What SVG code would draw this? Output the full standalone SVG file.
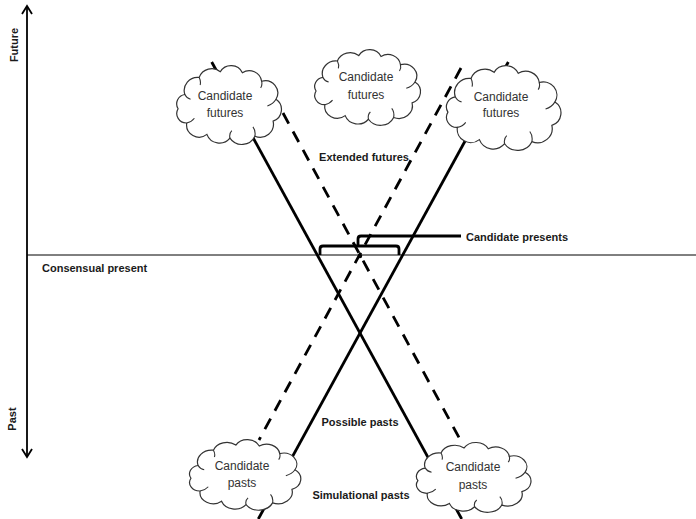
<svg xmlns="http://www.w3.org/2000/svg" width="696" height="519" viewBox="0 0 696 519">
<style>
.lbl{font-family:"Liberation Sans",Arial,sans-serif;font-size:11px;font-weight:bold;fill:#1a1a1a}
.ct{font-family:"Liberation Sans",Arial,sans-serif;font-size:12px;fill:#333;text-anchor:middle}
.cloud{fill:#fff;stroke:#333;stroke-width:1.2}
.curl{fill:none;stroke:#333;stroke-width:1.1}
.solid{stroke:#000;stroke-width:2.8;fill:none}
.dash{stroke:#000;stroke-width:2.8;fill:none;stroke-dasharray:12 9}
.axis{stroke:#000;stroke-width:1.8;fill:none}
</style>
<defs>
<g id="cloudShape">
<path class="cloud" vector-effect="non-scaling-stroke" d="M -45 -10 A 14 14 0 0 1 -30 -28 A 14 14 0 0 1 -8 -34 A 13 13 0 0 1 15 -33 A 13 13 0 0 1 35 -24 A 13 13 0 0 1 50 -5 A 13 13 0 0 1 47 18 A 14 14 0 0 1 28 34 A 15 15 0 0 1 2 36 A 14 14 0 0 1 -22 32 A 13 13 0 0 1 -43 20 A 10 10 0 0 1 -52 5 A 10 10 0 0 1 -45 -10 Z"/>
<path class="curl" vector-effect="non-scaling-stroke" d="M -43 20 Q -38 19 -35 15 M 50 -5 Q 47 0 41 2 M 2 36 Q 1 31 4 28 M 28 34 Q 29 28 26 24 M -30 -28 Q -28 -24 -29 -20 M 35 -24 Q 36 -20 34 -17 M -45 -10 Q -43 -6 -39 -5"/>
</g>
</defs>

<g id="axes">
<line class="axis" x1="27" y1="6" x2="27" y2="457"/>
<polyline class="axis" points="22,14 27,6 32,14"/>
<polyline class="axis" points="22,449 27,457 32,449"/>
<line x1="27" y1="255" x2="696" y2="255" stroke="#000" stroke-width="1"/>
<text class="lbl" transform="translate(18,45) rotate(-90)" text-anchor="middle">Future</text>
<text class="lbl" transform="translate(16,419) rotate(-90)" text-anchor="middle">Past</text>
</g>

<g id="connectors">
<line class="solid" x1="211.7" y1="62" x2="461.7" y2="519"/>
<line class="solid" x1="508.3" y1="62" x2="258.3" y2="519"/>
<line class="dash" x1="283" y1="113" x2="462" y2="443"/>
<line class="dash" x1="461" y1="68" x2="259" y2="440"/>
<path class="solid" d="M 320 255 V 249 Q 320 246 323 246 H 396 Q 399 246 399 249 V 255"/>
<path class="solid" d="M 358 246 V 239 Q 358 236 361 236 H 461"/>
<circle cx="360" cy="256" r="2.2" fill="#000"/>
</g>

<g id="cloud-tl">
<use href="#cloudShape" transform="translate(228,104) scale(0.96,0.95)"/>
<text class="ct" x="225" y="100">Candidate</text>
<text class="ct" x="225" y="117">futures</text>
</g>
<g id="cloud-tm">
<use href="#cloudShape" transform="translate(366.5,86.5) scale(0.97,0.91)"/>
<text class="ct" x="366" y="81">Candidate</text>
<text class="ct" x="366" y="99">futures</text>
</g>
<g id="cloud-tr">
<use href="#cloudShape" transform="translate(502.5,107) scale(1.05,1.02)"/>
<text class="ct" x="501" y="101">Candidate</text>
<text class="ct" x="501" y="117">futures</text>
</g>
<g id="cloud-bl">
<use href="#cloudShape" transform="translate(244,474) scale(1.02,0.85)"/>
<text class="ct" x="242" y="470">Candidate</text>
<text class="ct" x="242" y="487">pasts</text>
</g>
<g id="cloud-br">
<use href="#cloudShape" transform="translate(472.5,476.5) scale(1.05,0.84)"/>
<text class="ct" x="473" y="471">Candidate</text>
<text class="ct" x="473" y="489">pasts</text>
</g>

<g id="labels">
<text class="lbl" x="364" y="161" text-anchor="middle">Extended futures</text>
<text class="lbl" x="42" y="272">Consensual present</text>
<text class="lbl" x="466" y="241">Candidate presents</text>
<text class="lbl" x="360" y="426" text-anchor="middle">Possible pasts</text>
<text class="lbl" x="361" y="499" text-anchor="middle">Simulational pasts</text>
</g>
</svg>
